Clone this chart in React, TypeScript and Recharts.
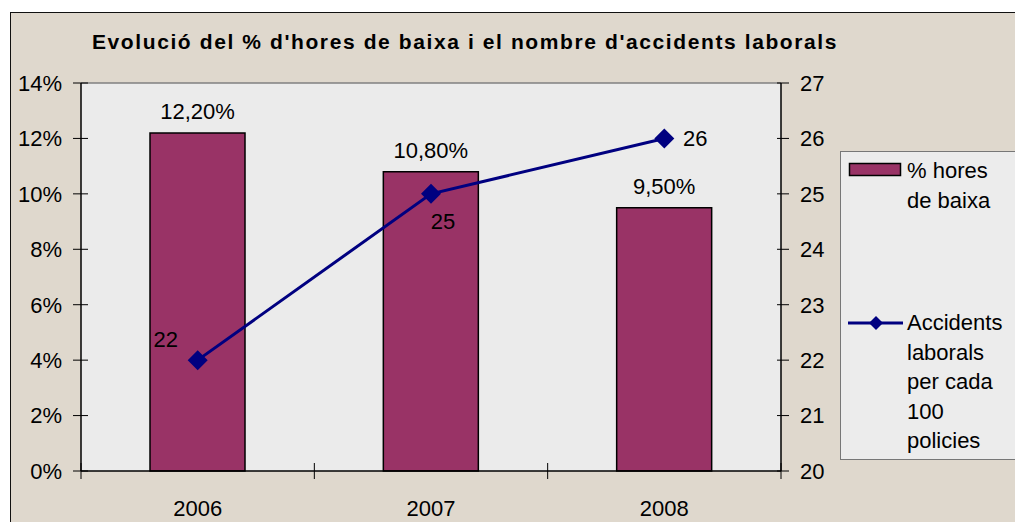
import React from 'react';
import { ComposedChart, Bar, Line, XAxis, YAxis, LabelList, ReferenceLine, CartesianGrid } from 'recharts';

const years = ['2006', '2007', '2008'];
const pctHoresBaixa = [12.2, 10.8, 9.5];
const accidentsLaborals = [22, 25, 26];
const leftTicks = [0, 2, 4, 6, 8, 10, 12, 14];
const rightTicks = [20, 21, 22, 23, 24, 25, 26, 27];
const seriesNames = ['% hores de baixa', 'Accidents laborals per cada 100 policies'];
const title = "Evolució del % d'hores de baixa i el nombre d'accidents laborals";

const data = years.map((y, i) => ({ year: y, pct: pctHoresBaixa[i], acc: accidentsLaborals[i] }));

const FONT = '"Liberation Sans", Arial, sans-serif';
const BAR_COLOR = '#993366';
const LINE_COLOR = '#000080';
const PLOT_LEFT = 81;
const PLOT_RIGHT = 781;
const HALF_BAND = (PLOT_RIGHT - PLOT_LEFT) / years.length / 2;
const lineLabelOffsets = [[-32, -21], [12, 27], [31, 0]];

const LeftTick = (props: any) => {
  const { x, y, payload } = props;
  return (
    <g>
      <line x1={x - 8} x2={x + 7} y1={y} y2={y} stroke="#000" strokeWidth={1} />
      <text x={x - 19} y={y} dy="0.36em" textAnchor="end" fontSize={22} fontFamily={FONT} fill="#000">
        {payload.value}%
      </text>
    </g>
  );
};

const RightTick = (props: any) => {
  const { x, y, payload } = props;
  return (
    <g>
      <line x1={x - 4} x2={x + 8} y1={y} y2={y} stroke="#000" strokeWidth={1} />
      <text x={x + 19} y={y} dy="0.36em" textAnchor="start" fontSize={22} fontFamily={FONT} fill="#000">
        {payload.value}
      </text>
    </g>
  );
};

const BottomTick = (props: any) => {
  const { x, y, payload, index } = props;
  return (
    <g>
      <line x1={x - HALF_BAND} x2={x - HALF_BAND} y1={y - 8} y2={y + 8} stroke="#000" strokeWidth={1} />
      {index === years.length - 1 ? (
        <line x1={x + HALF_BAND} x2={x + HALF_BAND} y1={y - 8} y2={y + 8} stroke="#000" strokeWidth={1} />
      ) : null}
      <text x={x} y={y + 37} dy="0.36em" textAnchor="middle" fontSize={22} fontFamily={FONT} fill="#000">
        {payload.value}
      </text>
    </g>
  );
};

const Diamond = (props: any) => {
  const { cx, cy } = props;
  if (cx == null || cy == null) return null;
  return <polygon points={`${cx},${cy - 10} ${cx + 10},${cy} ${cx},${cy + 10} ${cx - 10},${cy}`} fill={LINE_COLOR} />;
};

const LineLabel = (props: any) => {
  const { x, y, value, index } = props;
  const [dx, dy] = lineLabelOffsets[index] || [0, 0];
  return (
    <text x={x + dx} y={y + dy} dy="0.36em" textAnchor="middle" fontSize={22} fontFamily={FONT} fill="#000">
      {value}
    </text>
  );
};

const legendItems = [
  { name: seriesNames[0], type: 'rect' },
  { name: seriesNames[1], type: 'line' },
];

const LegendBox = () => (
  <div
    style={{
      position: 'absolute',
      left: 840,
      top: 151,
      width: 200,
      height: 309,
      background: '#ececec',
      border: '1.5px solid #777',
      boxSizing: 'border-box',
      fontFamily: FONT,
      fontSize: 22,
      color: '#000',
    }}
  >
    {legendItems.map((p, i) => (
      <div
        key={i}
        style={{ position: 'absolute', left: 0, top: i === 0 ? 4 : 156, display: 'flex', alignItems: 'flex-start' }}
      >
        <svg width={66} height={30} style={{ flex: 'none' }}>
          {p.type === 'rect' ? (
            <rect x={8.5} y={7.5} width={51} height={12} fill={BAR_COLOR} stroke="#000" strokeWidth={1.5} />
          ) : (
            <g>
              <line x1={7} x2={62} y1={15} y2={15} stroke={LINE_COLOR} strokeWidth={3} />
              <polygon points="35,8 42,15 35,22 28,15" fill={LINE_COLOR} />
            </g>
          )}
        </svg>
        <div style={{ width: 110, lineHeight: '29.5px' }}>{p.name}</div>
      </div>
    ))}
  </div>
);

export default function App() {
  return (
    <div style={{ position: 'absolute', left: 0, top: 0, width: 1015, height: 522, overflow: 'hidden', background: '#fff' }}>
      <div
        style={{
          position: 'absolute',
          left: 10,
          top: 12,
          width: 1030,
          height: 530,
          background: '#dfd8cd',
          borderTop: '1.5px solid #111',
          borderLeft: '1.5px solid #111',
        }}
      />
      <div
        style={{
          position: 'absolute',
          left: 0,
          width: 930,
          top: 29,
          textAlign: 'center',
          fontFamily: FONT,
          fontWeight: 'bold',
          fontSize: 21,
          letterSpacing: 1.6,
          color: '#000',
          lineHeight: '26px',
        }}
      >
        {title}
      </div>
      <div style={{ position: 'absolute', left: 0, top: 0 }}>
        <ComposedChart width={1015} height={522} data={data} margin={{ top: 83, right: 174, bottom: 11, left: 10 }}>
          <CartesianGrid horizontal={false} vertical={false} fill="#ebebeb" />
          <XAxis
            dataKey="year"
            xAxisId="x"
            height={40}
            tickSize={0}
            tickMargin={0}
            tick={<BottomTick />}
            axisLine={{ stroke: '#000', strokeWidth: 1.5 }}
            tickLine={false}
          />
          <YAxis
            yAxisId="left"
            orientation="left"
            width={71}
            domain={[0, 14]}
            ticks={leftTicks}
            tickSize={0}
            tickMargin={0}
            tick={<LeftTick />}
            tickLine={false}
            axisLine={{ stroke: '#000', strokeWidth: 1.5 }}
          />
          <YAxis
            yAxisId="right"
            orientation="right"
            width={60}
            domain={[20, 27]}
            ticks={rightTicks}
            tickSize={0}
            tickMargin={0}
            tick={<RightTick />}
            tickLine={false}
            axisLine={{ stroke: '#000', strokeWidth: 1.5 }}
          />
          <ReferenceLine yAxisId="left" xAxisId="x" y={14} stroke="#808080" strokeWidth={1.5} />
          <Bar
            dataKey="pct"
            name={seriesNames[0]}
            xAxisId="x"
            yAxisId="left"
            fill={BAR_COLOR}
            stroke="#000"
            strokeWidth={1.5}
            barSize={95}
            isAnimationActive={false}
          >
            <LabelList
              dataKey="pct"
              position="top"
              offset={14}
              formatter={(v: any) => Number(v).toFixed(2).replace('.', ',') + '%'}
              style={{ fontSize: 22, fontFamily: FONT, fill: '#000' }}
            />
          </Bar>
          <Line
            dataKey="acc"
            name={seriesNames[1]}
            xAxisId="x"
            yAxisId="right"
            stroke={LINE_COLOR}
            strokeWidth={3}
            dot={<Diamond />}
            activeDot={false}
            isAnimationActive={false}
          >
            <LabelList dataKey="acc" content={<LineLabel />} />
          </Line>
        </ComposedChart>
      </div>
      <LegendBox />
    </div>
  );
}
